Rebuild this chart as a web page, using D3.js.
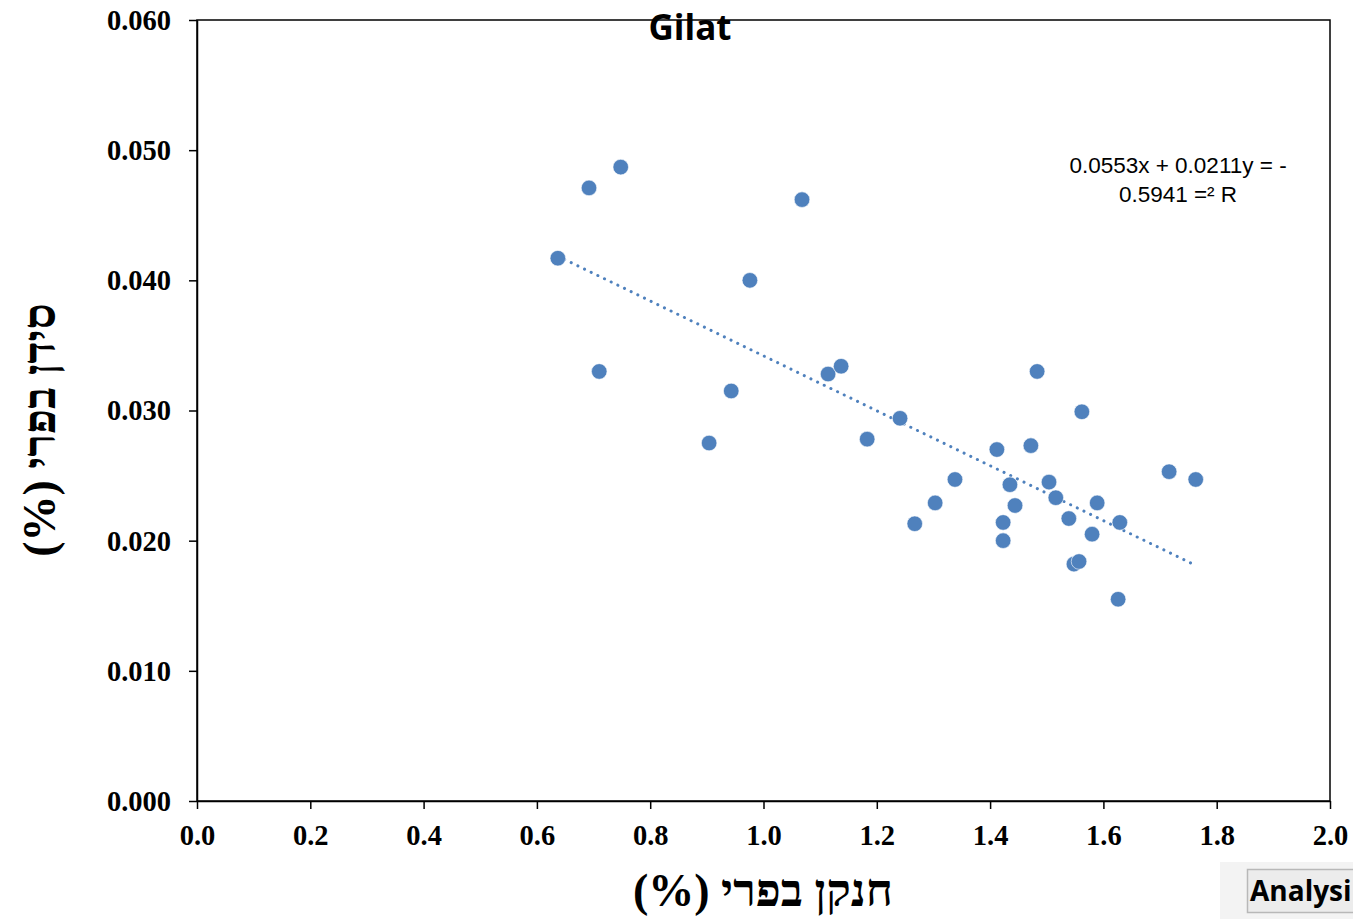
<!DOCTYPE html>
<html>
<head>
<meta charset="utf-8">
<script src="https://cdn.jsdelivr.net/npm/d3@7"></script>
<style>
  html, body { margin: 0; padding: 0; background: #fff; }
  svg { display: block; }
</style>
</head>
<body>
<svg id="chart" width="1353" height="919"></svg>
<script>
// Fruit nitrogen (%) vs fruit calcium (%) samples, Gilat
const nitrogen = [0.637, 0.692, 0.748, 0.710, 0.904, 0.943, 0.976, 1.068, 1.114, 1.137,
                  1.183, 1.241, 1.267, 1.303, 1.338, 1.412, 1.423, 1.423, 1.435, 1.444,
                  1.472, 1.483, 1.504, 1.516, 1.539, 1.548, 1.557, 1.562, 1.580, 1.589,
                  1.626, 1.629, 1.716, 1.763];
const calcium = [0.0417, 0.0471, 0.0487, 0.0330, 0.0275, 0.0315, 0.0400, 0.0462, 0.0328, 0.0334,
                 0.0278, 0.0294, 0.0213, 0.0229, 0.0247, 0.0270, 0.0214, 0.0200, 0.0243, 0.0227,
                 0.0273, 0.0330, 0.0245, 0.0233, 0.0217, 0.0182, 0.0184, 0.0299, 0.0205, 0.0229,
                 0.0155, 0.0214, 0.0253, 0.0247];

// Linear trendline as reported on the chart
const trendSlope = [-0.0211];
const trendIntercept = [0.0553];
const equationLines = ["0.0553x + 0.0211y = -", "0.5941 =\u00B2 R"];

const xTicks = [0.0, 0.2, 0.4, 0.6, 0.8, 1.0, 1.2, 1.4, 1.6, 1.8, 2.0];
const yTicks = [0.000, 0.010, 0.020, 0.030, 0.040, 0.050, 0.060];

const titleText = "Gilat";
const xTitle = "חנקן בפרי (%)";
const yTitle = "סידן בפרי (%)";

const svg = d3.select("#chart");
const plotLeft = 197, plotRight = 1330, plotTop = 20, plotBottom = 801;

const x = d3.scaleLinear().domain([0, 2]).range([plotLeft, plotRight]);
const y = d3.scaleLinear().domain([0, 0.06]).range([plotBottom, plotTop]);

// Plot frame
svg.append("rect")
  .attr("x", plotLeft).attr("y", plotTop)
  .attr("width", plotRight - plotLeft).attr("height", plotBottom - plotTop)
  .attr("fill", "none").attr("stroke", "#000").attr("stroke-width", 1.5);

const tickFont = "'Liberation Serif', 'Times New Roman', serif";

const xAxis = svg.append("g")
  .attr("transform", `translate(0,${plotBottom})`)
  .call(d3.axisBottom(x).tickValues(xTicks).tickFormat(d3.format(".1f")).tickSize(8).tickSizeOuter(0));
xAxis.select(".domain").attr("stroke", "#000").attr("stroke-width", 1.5);
xAxis.selectAll(".tick line").attr("stroke", "#000").attr("stroke-width", 1.5);
xAxis.selectAll(".tick text")
  .attr("y", 25).attr("dy", "0.68em")
  .style("font-family", tickFont).style("font-weight", "bold").style("font-size", "28.5px").attr("fill", "#000");

const yAxis = svg.append("g")
  .attr("transform", `translate(${plotLeft},0)`)
  .call(d3.axisLeft(y).tickValues(yTicks).tickFormat(d3.format(".3f")).tickSize(8).tickSizeOuter(0));
yAxis.select(".domain").attr("stroke", "#000").attr("stroke-width", 1.5);
yAxis.selectAll(".tick line").attr("stroke", "#000").attr("stroke-width", 1.5);
yAxis.selectAll(".tick text")
  .attr("x", -26).attr("dy", "0.33em")
  .style("font-family", tickFont).style("font-weight", "bold").style("font-size", "28.5px").attr("fill", "#000");

// Trendline across the observed nitrogen range
const xMin = d3.min(nitrogen), xMax = d3.max(nitrogen);
const trend = [xMin, xMax].map(v => [v, trendSlope[0] * v + trendIntercept[0]]);
svg.append("path")
  .datum(trend)
  .attr("d", d3.line().x(d => x(d[0])).y(d => y(d[1])))
  .attr("fill", "none")
  .attr("stroke", "#4F81BD")
  .attr("stroke-width", 3)
  .attr("stroke-linecap", "round")
  .attr("stroke-dasharray", "0.1 7.3");

// Sample points
svg.append("g").selectAll("circle")
  .data(nitrogen.map((n, i) => [n, calcium[i]]))
  .join("circle")
  .attr("cx", d => x(d[0]))
  .attr("cy", d => y(d[1]))
  .attr("r", 7.8)
  .attr("fill", "#4F81BD")
  .attr("stroke", "#fff")
  .attr("stroke-width", 0.6);

// Title
svg.append("text")
  .attr("x", 690).attr("y", 40)
  .attr("text-anchor", "middle")
  .style("font-family", "'Open Sans', 'Noto Sans', sans-serif")
  .style("font-weight", "bold").style("font-size", "35px")
  .attr("fill", "#000")
  .text(titleText);

// Trendline equation
svg.append("g").selectAll("text")
  .data(equationLines)
  .join("text")
  .attr("x", 1178)
  .attr("y", (d, i) => 173 + i * 29)
  .attr("text-anchor", "middle")
  .attr("direction", "ltr")
  .style("unicode-bidi", "bidi-override")
  .style("font-family", "'Liberation Sans', Arial, sans-serif")
  .style("font-size", "22.5px")
  .attr("fill", "#000")
  .text(d => d);

// Axis titles (Hebrew, right-to-left)
const titleFont = "'Liberation Serif', 'Times New Roman', serif";
svg.append("text")
  .attr("x", 763).attr("y", 906)
  .attr("text-anchor", "middle")
  .attr("direction", "rtl")
  .style("font-family", titleFont).style("font-weight", "bold").style("font-size", "46px")
  .attr("fill", "#000")
  .text(xTitle);

svg.append("text")
  .attr("transform", "translate(55,430) rotate(-90)")
  .attr("text-anchor", "middle")
  .attr("direction", "rtl")
  .style("font-family", titleFont).style("font-weight", "bold").style("font-size", "46px")
  .attr("fill", "#000")
  .text(yTitle);

// "Analysis" button strip in the bottom-right corner
const btn = svg.append("g");
btn.append("rect").attr("x", 1220).attr("y", 862).attr("width", 133).attr("height", 57).attr("fill", "#f3f3f3");
btn.append("rect").attr("x", 1247.5).attr("y", 869.5).attr("width", 110).attr("height", 43)
  .attr("fill", "#ececec").attr("stroke", "#b8b8b8").attr("stroke-width", 1.5);
btn.append("text")
  .attr("x", 1250).attr("y", 901)
  .style("font-family", "'Open Sans', 'Noto Sans', sans-serif")
  .style("font-weight", "bold").style("font-size", "28px")
  .attr("fill", "#000")
  .text("Analysi");
</script>
</body>
</html>
